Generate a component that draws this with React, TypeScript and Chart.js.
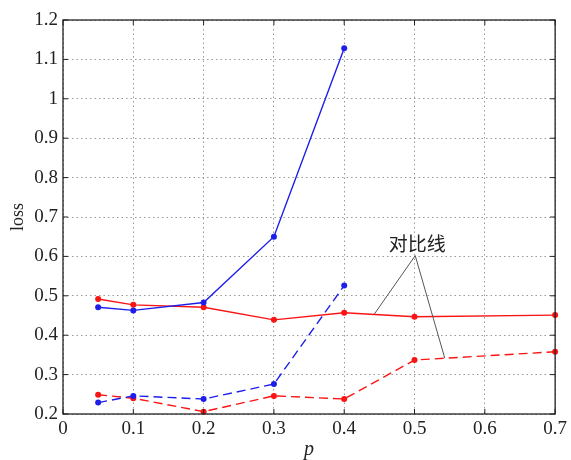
import React, { useEffect, useRef } from "react";
import { Chart, registerables } from "chart.js";

Chart.register(...registerables);

const xValues = [0.05, 0.1, 0.2, 0.3, 0.4, 0.5, 0.7];
const blueSolid = [0.471, 0.463, 0.483, 0.65, 1.128];
const blueDashed = [0.229, 0.246, 0.238, 0.276, 0.526];
const redSolid = [0.492, 0.477, 0.471, 0.439, 0.457, 0.447, 0.451];
const redDashed = [0.249, 0.24, 0.206, 0.246, 0.238, 0.337, 0.358];

const xAxisTitle = "p";
const yAxisTitle = "loss";
const annotationText = "对比线";
const annotationTextPos = { x: 0.504, y: 0.633 };
const annotationApex = { x: 0.501, y: 0.602 };
const annotationTargets = [
  { x: 0.443, y: 0.454 },
  { x: 0.543, y: 0.342 },
];

const BLUE = "rgb(30,30,235)";
const RED = "rgb(250,20,20)";
const SERIF = "'Liberation Serif', 'DejaVu Serif', serif";

function pts(ys: number[]) {
  return ys.map((y, i) => ({ x: xValues[i], y }));
}

const fmt = (v: any) => String(Number(Number(v).toFixed(2)));

const framePlugin = {
  id: "frame",
  afterDraw(chart: any) {
    const { ctx, chartArea: a, scales } = chart;
    const xs = scales.x;
    const ys = scales.y;
    ctx.save();
    // annotation
    ctx.strokeStyle = "#555";
    ctx.lineWidth = 1;
    const ax = xs.getPixelForValue(annotationApex.x);
    const ay = ys.getPixelForValue(annotationApex.y);
    annotationTargets.forEach((t) => {
      ctx.beginPath();
      ctx.moveTo(ax, ay);
      ctx.lineTo(xs.getPixelForValue(t.x), ys.getPixelForValue(t.y));
      ctx.stroke();
    });
    ctx.fillStyle = "#222";
    ctx.font = "19px 'Noto Sans CJK SC', sans-serif";
    ctx.textAlign = "center";
    ctx.textBaseline = "middle";
    ctx.fillText(
      annotationText,
      xs.getPixelForValue(annotationTextPos.x),
      ys.getPixelForValue(annotationTextPos.y)
    );
    // frame
    ctx.strokeStyle = "#222";
    ctx.lineWidth = 1.3;
    ctx.strokeRect(a.left, a.top, a.right - a.left, a.bottom - a.top);
    // inward ticks
    const tl = 5;
    ctx.lineWidth = 1;
    xs.ticks.forEach((t: any) => {
      const px = xs.getPixelForValue(t.value);
      ctx.beginPath();
      ctx.moveTo(px, a.bottom);
      ctx.lineTo(px, a.bottom - tl);
      ctx.moveTo(px, a.top);
      ctx.lineTo(px, a.top + tl);
      ctx.stroke();
    });
    ys.ticks.forEach((t: any) => {
      const py = ys.getPixelForValue(t.value);
      ctx.beginPath();
      ctx.moveTo(a.left, py);
      ctx.lineTo(a.left + tl, py);
      ctx.moveTo(a.right, py);
      ctx.lineTo(a.right - tl, py);
      ctx.stroke();
    });
    // axis titles
    ctx.fillStyle = "#222";
    ctx.font = `italic 20px ${SERIF}`;
    ctx.textAlign = "center";
    ctx.textBaseline = "middle";
    ctx.fillText(xAxisTitle, (a.left + a.right) / 2, a.bottom + 36);
    ctx.translate(18, (a.top + a.bottom) / 2);
    ctx.rotate(-Math.PI / 2);
    ctx.font = `18px ${SERIF}`;
    ctx.fillText(yAxisTitle, 0, 0);
    ctx.restore();
  },
};

export default function App() {
  const ref = useRef<HTMLCanvasElement>(null);
  useEffect(() => {
    document.body.style.margin = "0";
    const lineDs = (label: string, ys: number[], color: string, dashed: boolean) => ({
      label,
      data: pts(ys),
      borderColor: color,
      backgroundColor: color,
      borderWidth: 1.4,
      borderDash: dashed ? [9, 5] : [],
      pointRadius: 3,
      pointBorderWidth: 0,
      pointBackgroundColor: color,
      tension: 0,
      clip: false as any,
    });
    const chart = new Chart(ref.current!, {
      type: "line",
      data: {
        datasets: [
          lineDs("blue-solid", blueSolid, BLUE, false),
          lineDs("blue-dashed", blueDashed, BLUE, true),
          lineDs("red-solid", redSolid, RED, false),
          lineDs("red-dashed", redDashed, RED, true),
        ],
      },
      options: {
        animation: false,
        responsive: false,
        layout: { padding: { top: 20, right: 12, left: 0, bottom: 0 } },
        plugins: { legend: { display: false }, tooltip: { enabled: false } },
        scales: {
          x: {
            type: "linear",
            min: 0,
            max: 0.7,
            ticks: {
              stepSize: 0.1,
              color: "#222",
              font: { family: SERIF, size: 19 },
              padding: 4,
              callback: (v: any) => fmt(v),
            },
            grid: { color: "#999", drawTicks: false },
            border: { display: false, dash: [1.5, 3] },
            afterFit: (s: any) => {
              s.height = 46;
            },
          },
          y: {
            min: 0.2,
            max: 1.2,
            ticks: {
              stepSize: 0.1,
              color: "#222",
              font: { family: SERIF, size: 19 },
              padding: 5,
              callback: (v: any) => fmt(v),
            },
            grid: { color: "#999", drawTicks: false },
            border: { display: false, dash: [1.5, 3] },
            afterFit: (s: any) => {
              s.width = 63;
            },
          },
        },
      },
      plugins: [framePlugin],
    });
    return () => chart.destroy();
  }, []);
  return (
    <div style={{ width: 571, height: 460 }}>
      <canvas ref={ref} width={571} height={460} />
    </div>
  );
}
